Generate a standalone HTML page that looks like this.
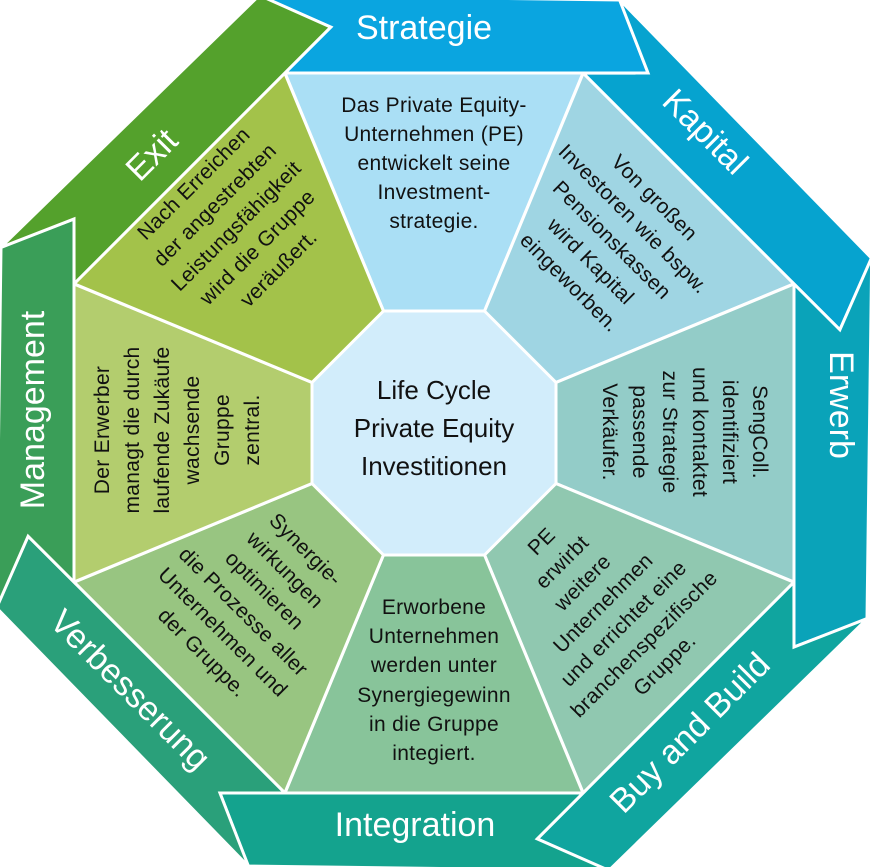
<!DOCTYPE html>
<html><head><meta charset="utf-8"><style>
html,body{margin:0;padding:0;background:#fff;}
svg{display:block;}
.w{font-family:"Liberation Sans","DejaVu Sans",sans-serif;font-size:21px;fill:#111;letter-spacing:0.3px;}
.b{font-family:"Liberation Sans","DejaVu Sans",sans-serif;font-size:34px;fill:#fff;}
</style></head><body>
<svg width="870" height="867" viewBox="0 0 870 867" xmlns="http://www.w3.org/2000/svg">
<defs>
<polygon id="band" points="-175.6,-437.7 186,-433 214,-360 -149,-360 -103.2,-405.9"/>
<polygon id="wedge" points="0,0 -149,-360 149,-360"/>
</defs>
<g transform="translate(434,433)" stroke="#fff" stroke-width="3" stroke-linejoin="miter">
<use href="#wedge" fill="#aadff5"/>
<use href="#wedge" fill="#9fd5e3" transform="rotate(45)"/>
<use href="#wedge" fill="#93ccc8" transform="rotate(90)"/>
<use href="#wedge" fill="#90c8b0" transform="rotate(135)"/>
<use href="#wedge" fill="#88c49a" transform="rotate(180)"/>
<use href="#wedge" fill="#98c581" transform="rotate(225)"/>
<use href="#wedge" fill="#b3cd6e" transform="rotate(270)"/>
<use href="#wedge" fill="#a3c24a" transform="rotate(315)"/>
<use href="#band" fill="#0aa5e0"/>
<use href="#band" fill="#06a3cf" transform="rotate(45)"/>
<use href="#band" fill="#0aa3b9" transform="rotate(90)"/>
<use href="#band" fill="#10a59f" transform="rotate(135)"/>
<use href="#band" fill="#14a38e" transform="rotate(180)"/>
<use href="#band" fill="#2aa07a" transform="rotate(225)"/>
<use href="#band" fill="#3a9e58" transform="rotate(270)"/>
<use href="#band" fill="#54a12c" transform="rotate(315)"/>
<polygon fill="#d2edfb" points="50.5,-122 122,-50.5 122,50.5 50.5,122 -50.5,122 -122,50.5 -122,-50.5 -50.5,-122"/>
</g>
<g class="b" text-anchor="middle" dominant-baseline="central">
<text x="424" y="28">Strategie</text>
<text transform="translate(705,132) rotate(45)">Kapital</text>
<text transform="translate(841,405) rotate(90)">Erwerb</text>
<text transform="translate(690,733) rotate(-45)">Buy and Build</text>
<text x="415" y="825">Integration</text>
<text transform="translate(130,690) rotate(45)">Verbesserung</text>
<text transform="translate(33,410) rotate(-90)">Management</text>
<text transform="translate(152,155) rotate(-45)">Exit</text>
</g>
<text x="434" y="390" text-anchor="middle" dominant-baseline="central" font-family="Liberation Sans, sans-serif" font-size="26" fill="#111">Life Cycle</text>
<text x="434" y="428" text-anchor="middle" dominant-baseline="central" font-family="Liberation Sans, sans-serif" font-size="26" fill="#111">Private Equity</text>
<text x="434" y="466" text-anchor="middle" dominant-baseline="central" font-family="Liberation Sans, sans-serif" font-size="26" fill="#111">Investitionen</text>
<g class="w" text-anchor="middle" dominant-baseline="central">
<g transform="translate(434,163)"><text>
<tspan x="0" y="-58">Das Private Equity-</tspan><tspan x="0" y="-29">Unternehmen (PE)</tspan><tspan x="0" y="0">entwickelt seine</tspan><tspan x="0" y="29">Investment-</tspan><tspan x="0" y="58">strategie.</tspan></text></g>
<g transform="translate(612,240) rotate(45)"><text>
<tspan x="0" y="-60">Von großen</tspan><tspan x="0" y="-30">Investoren wie bspw.</tspan><tspan x="0" y="0">Pensionskassen</tspan><tspan x="0" y="30">wird Kapital</tspan><tspan x="0" y="60">eingeworben.</tspan></text></g>
<g transform="translate(685,432) rotate(90)"><text>
<tspan x="0" y="-75">SengColl.</tspan><tspan x="0" y="-45">identifiziert</tspan><tspan x="0" y="-15">und kontaktet</tspan><tspan x="0" y="15">zur Strategie</tspan><tspan x="0" y="45">passende</tspan><tspan x="0" y="75">Verkäufer.</tspan></text></g>
<g transform="translate(603,603) rotate(-45)"><text>
<tspan x="0" y="-87">PE</tspan><tspan x="0" y="-58">erwirbt</tspan><tspan x="0" y="-29">weitere</tspan><tspan x="0" y="0">Unternehmen</tspan><tspan x="0" y="29">und errichtet eine</tspan><tspan x="0" y="58">branchenspezifische</tspan><tspan x="0" y="87">Gruppe.</tspan></text></g>
<g transform="translate(434,680)"><text>
<tspan x="0" y="-73">Erworbene</tspan><tspan x="0" y="-44">Unternehmen</tspan><tspan x="0" y="-15">werden unter</tspan><tspan x="0" y="15">Synergiegewinn</tspan><tspan x="0" y="44">in die Gruppe</tspan><tspan x="0" y="73">integiert.</tspan></text></g>
<g transform="translate(254,601) rotate(45)"><text>
<tspan x="0" y="-73">Synergie-</tspan><tspan x="0" y="-44">wirkungen</tspan><tspan x="0" y="-15">optimieren</tspan><tspan x="0" y="15">die Prozesse aller</tspan><tspan x="0" y="44">Unternehmen und</tspan><tspan x="0" y="73">der Gruppe.</tspan></text></g>
<g transform="translate(177,430) rotate(-90)"><text>
<tspan x="0" y="-75">Der Erwerber</tspan><tspan x="0" y="-45">managt die durch</tspan><tspan x="0" y="-15">laufende Zukäufe</tspan><tspan x="0" y="15">wachsende</tspan><tspan x="0" y="45">Gruppe</tspan><tspan x="0" y="75">zentral.</tspan></text></g>
<g transform="translate(236,226) rotate(-45)"><text>
<tspan x="0" y="-60">Nach Erreichen</tspan><tspan x="0" y="-30">der angestrebten</tspan><tspan x="0" y="0">Leistungsfähigkeit</tspan><tspan x="0" y="30">wird die Gruppe</tspan><tspan x="0" y="60">veräußert.</tspan></text></g>
</g>
</svg>
</body></html>
